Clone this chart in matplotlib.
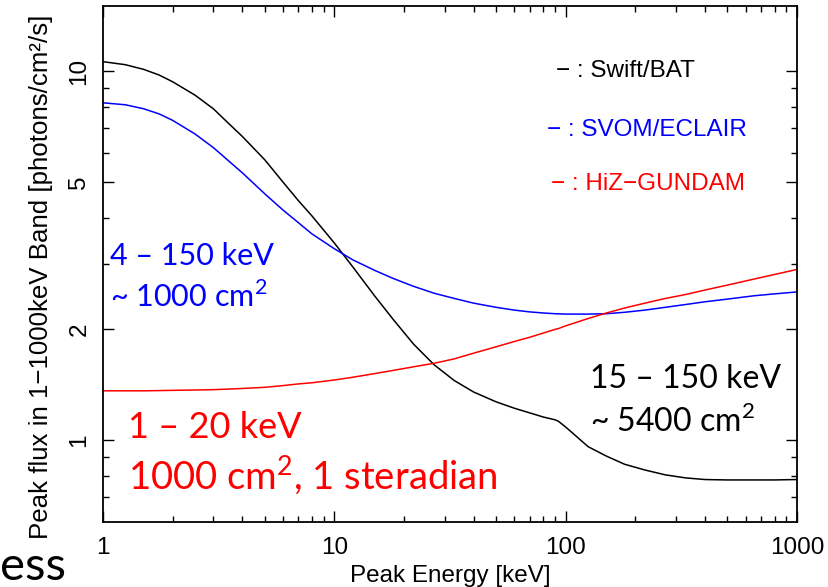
import matplotlib
matplotlib.use("Agg")
import matplotlib.pyplot as plt
from matplotlib.ticker import FixedLocator, NullFormatter, FixedFormatter

# Peak energy grid [keV] and peak flux [photons/cm2/s]
energy = [1, 1.25, 1.5, 1.75, 2, 2.5, 3, 3.5, 4, 5, 6, 7, 8, 10, 12, 15, 18,
          22, 27, 33, 40, 50, 60, 70, 80, 90, 93, 100, 110, 125, 150, 180,
          220, 270, 330, 400, 500, 650, 800, 1000]
swift_bat = [10.6, 10.4, 10.1, 9.75, 9.35, 8.6, 7.9, 7.2, 6.65, 5.75, 5.0,
             4.45, 4.05, 3.42, 2.95, 2.45, 2.12, 1.82, 1.6, 1.45, 1.35, 1.27,
             1.22, 1.185, 1.155, 1.135, 1.125, 1.085, 1.03, 0.96, 0.905, 0.86,
             0.83, 0.805, 0.79, 0.782, 0.78, 0.78, 0.78, 0.782]
svom_eclair = [8.2, 8.1, 7.9, 7.65, 7.35, 6.75, 6.2, 5.7, 5.3, 4.65, 4.2,
               3.88, 3.62, 3.3, 3.08, 2.88, 2.74, 2.61, 2.5, 2.42, 2.35, 2.29,
               2.25, 2.225, 2.21, 2.2, 2.198, 2.195, 2.195, 2.195, 2.2, 2.22,
               2.25, 2.29, 2.33, 2.37, 2.41, 2.46, 2.49, 2.52]
hiz_gundam = [1.36, 1.36, 1.36, 1.362, 1.364, 1.367, 1.37, 1.375, 1.38, 1.39,
              1.405, 1.42, 1.43, 1.455, 1.48, 1.515, 1.545, 1.58, 1.615, 1.66,
              1.72, 1.79, 1.85, 1.9, 1.95, 1.995, 2.005, 2.04, 2.08, 2.135,
              2.21, 2.28, 2.35, 2.42, 2.48, 2.55, 2.63, 2.73, 2.81, 2.9]

y_major = [1, 2, 5, 10]
y_minor = [0.7, 0.8, 0.9, 3, 4, 6, 7, 8, 9]

plt.rcParams["font.family"] = ["Liberation Sans", "DejaVu Sans"]
plt.rcParams["mathtext.fontset"] = "custom"
plt.rcParams["mathtext.rm"] = "Lato"

fig = plt.figure(figsize=(8.29, 5.87), dpi=100)
ax = fig.add_axes([103 / 829, 1 - 522 / 587, 694 / 829, 516 / 587])

ax.plot(energy, swift_bat, color="black", lw=1.1)
ax.plot(energy, svom_eclair, color="blue", lw=1.1)
ax.plot(energy, hiz_gundam, color="red", lw=1.1)

ax.set_xscale("log")
ax.set_yscale("log")
ax.set_xlim(1, 1000)
ax.set_ylim(0.6, 15)

ax.yaxis.set_major_locator(FixedLocator(y_major))
ax.yaxis.set_major_formatter(FixedFormatter([str(v) for v in y_major]))
ax.yaxis.set_minor_locator(FixedLocator(y_minor))
ax.yaxis.set_minor_formatter(NullFormatter())
ax.xaxis.set_minor_formatter(NullFormatter())
ax.set_xticks([1, 10, 100, 1000], ["1", "10", "100", "1000"])

ax.tick_params(which="both", direction="in", top=True, right=True,
               width=1.0, labelsize=17.5)
ax.tick_params(which="major", length=8)
ax.tick_params(which="minor", length=4.5)
ax.tick_params(axis="y", labelrotation=90, pad=9)
ax.tick_params(axis="x", pad=11)
for lab in ax.get_yticklabels():
    lab.set_va("center")
for s in ax.spines.values():
    s.set_linewidth(1.3)

ax.set_xlabel("Peak Energy [keV]", fontsize=17.5)
ax.set_ylabel("Peak flux in 1\u22121000keV Band [photons/cm\u00b2/s]",
              fontsize=18.6)
ax.xaxis.set_label_coords(0.5, -0.083)
ax.yaxis.set_label_coords(-0.072, 0.475)

def px(x, y):
    return x / 829, 1 - y / 587

# legend-like labels
fig.text(*px(556, 77), "\u2212 : Swift/BAT", color="black", fontsize=17.5)
fig.text(*px(547, 136), "\u2212 : SVOM/ECLAIR", color="blue", fontsize=17.5)
fig.text(*px(551, 190), "\u2212 : HiZ\u2212GUNDAM", color="red", fontsize=17.5)

calibri = ["Lato", "DejaVu Sans"]
sq = r"$^{\mathrm{2}}$"
fig.text(*px(110, 265), "4 \u2013 150 keV", color="blue", fontsize=22,
         family=calibri)
fig.text(*px(110, 307), "~ 1000 cm" + sq, color="blue", fontsize=22,
         family=calibri)
fig.text(*px(128, 438), "1 \u2013 20 keV", color="red", fontsize=26,
         family=calibri)
fig.text(*px(128, 489), "1000 cm" + sq + ", 1 steradian", color="red",
         fontsize=27.5, family=calibri)
fig.text(*px(590, 388), "15 \u2013 150 keV", color="black", fontsize=23,
         family=calibri)
fig.text(*px(590, 432), "~ 5400 cm" + sq, color="black", fontsize=23,
         family=calibri)
fig.text(*px(0, 580), "ess", color="black", fontsize=34, family=calibri)

fig.savefig("out.png", dpi=100)
